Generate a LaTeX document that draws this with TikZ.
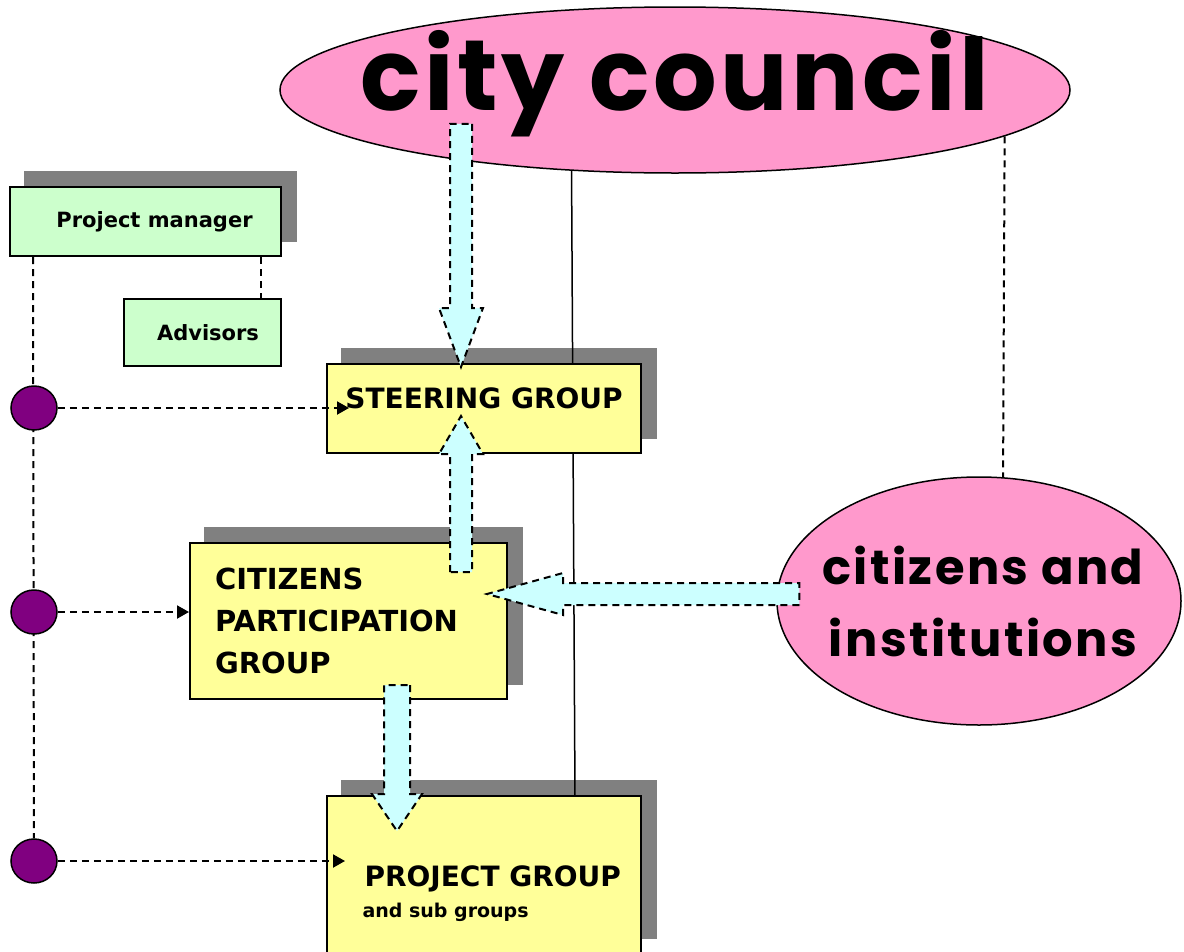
\documentclass[tikz,border=0pt]{standalone}
\usepackage{fontspec}
\setmainfont{DejaVu Sans}
\newfontfamily\handfont{Poppins}[LetterSpace=5]
\usetikzlibrary{arrows.meta,positioning,shapes.geometric,calc}
\definecolor{obpink}{RGB}{255,153,204}
\definecolor{obgreen}{RGB}{204,255,204}
\definecolor{obyellow}{RGB}{255,255,153}
\definecolor{obcyan}{RGB}{204,255,255}
\definecolor{obshade}{RGB}{128,128,128}
\definecolor{obpurple}{RGB}{128,0,128}
\pgfdeclarelayer{back}
\pgfsetlayers{back,main}
\tikzset{
  blob/.style={ellipse, draw, line width=1.5pt, fill=obpink, inner sep=0pt},
  staffbox/.style={draw, line width=2pt, fill=obgreen, inner sep=0pt, font=\bfseries\fontsize{21}{25}\selectfont},
  groupbox/.style={draw, line width=2pt, fill=obyellow, inner sep=0pt, align=left, font=\bfseries\fontsize{28}{42}\selectfont},
  dot/.style={ellipse, draw, line width=1.5pt, fill=obpurple, minimum width=46pt, minimum height=44pt, inner sep=0pt},
  link/.style={line width=2pt, dash pattern=on 7pt off 5pt},
  feed/.style={link, -{Triangle[length=12pt,width=13pt]}},
  flow/.style={draw, fill=obcyan, line width=2pt, dash pattern=on 7pt off 5pt},
  shade/.style={fill=obshade}
}
% wide arrow: start, end, head length, shaft half width, head half width
\newcommand\flowarrow[5]{%
  \draw[flow] let \p1=(#1), \p2=(#2),
    \n1={atan2(\y2-\y1,\x2-\x1)}, \n2={veclen(\x2-\x1,\y2-\y1)} in
    [shift={(\p1)}, rotate=\n1]
    (0pt,#4pt) -- ({\n2*1pt-#3pt},#4pt) -- ({\n2*1pt-#3pt},#5pt) -- ({\n2*1pt},0pt)
    -- ({\n2*1pt-#3pt},-#5pt) -- ({\n2*1pt-#3pt},-#4pt) -- (0pt,-#4pt) -- cycle;}

\begin{document}
\begin{tikzpicture}[x=1pt, y=-1pt]
  \useasboundingbox (0,0) rectangle (1184,951);
  % council
  \node[blob, minimum width=790pt, minimum height=166pt] (council) at (675,90) {};
  \node[anchor=base, font=\handfont\bfseries\fontsize{100}{100}\selectfont\addfontfeature{LetterSpace=3.5}] (counciltext) at ($(council.center)+(0,20)$) {city council};
  % project manager and advisors
  \node[staffbox, minimum width=271pt, minimum height=69pt] (manager) at (145.5,221.5) {\hspace*{18pt}Project manager};
  \node[staffbox, minimum width=157pt, minimum height=67pt] (advisors) at (202.5,332.5) {\hspace*{11pt}Advisors};
  % groups
  \node[groupbox, minimum width=314pt, minimum height=89pt, text depth=20pt] (steering) at (484,408.5) {STEERING GROUP};
  \node[groupbox, minimum width=317pt, minimum height=156pt, text width=267pt, font=\bfseries\fontsize{29}{42}\selectfont] (cpg) at (348.5,621) {CITIZENS\\PARTICIPATION\\GROUP};
  \node[groupbox, minimum width=314pt, minimum height=157pt] (project) at (484,874.5) {};
  \node[anchor=base west, font=\bfseries\fontsize{28}{34}\selectfont] (projtitle) at ($(project.north west)+(35,91)$) {PROJECT GROUP};
  \node[anchor=base west, font=\bfseries\fontsize{19}{23}\selectfont] (projsub) at ($(project.north west)+(33,122)$) {and sub groups};
  % citizens
  \node[blob, minimum width=404pt, minimum height=248pt] (citizens) at (979,601) {};
  \node[align=center, inner sep=0pt, font=\handfont\bfseries\fontsize{48}{72}\selectfont] (citizenstext) at ($(citizens.center)+(4,0)$) {citizens and\\institutions};
  % staff dots
  \foreach \i/\y in {1/408,2/612,3/861}
    \node[dot] (dot\i) at (34,\y) {};

  % shadows and thin lines behind the boxes
  \begin{pgfonlayer}{back}
    \foreach \b in {manager,steering,cpg,project}
      \fill[shade] ($(\b.south west)+(15,-15)$) rectangle ($(\b.north east)+(15,-15)$);
    \draw[line width=1.5pt] (council.218.76) -- ($(project.north)+(91,2)$);
    \draw[link] (council.-8.19) -- (citizens.79.9);
    \draw[link] ($(manager.south west)+(24,0)$) -- (dot3);
    \draw[link] ($(manager.south east)+(-21,0)$) coordinate (mgr-adv) -- (mgr-adv |- advisors.north);
  \end{pgfonlayer}

  \draw[feed] (dot1.east) -- ($(dot1 -| steering.west)+(23,0)$);
  \draw[feed] (dot2.east) -- (dot2 -| cpg.west);
  \draw[feed] (dot3.east) -- ($(dot3 -| project.west)+(19,0)$);

  % wide arrows between council, groups and citizens
  \flowarrow{$(council.south)+(-214,-50)$}{$(steering.north)+(-23,4)$}{59}{11}{22}
  \flowarrow{$(cpg.north)+(112.5,30)$}{$(steering.south)+(-23,-38)$}{38}{11}{22}
  \flowarrow{$(citizens.west)+(23,-7)$}{$(cpg.east)+(-21,-27)$}{76}{11}{21}
  \flowarrow{$(cpg.south)+(48.5,-15)$}{$(project.north)+(-87,36)$}{37}{13}{25}
\end{tikzpicture}
\end{document}
